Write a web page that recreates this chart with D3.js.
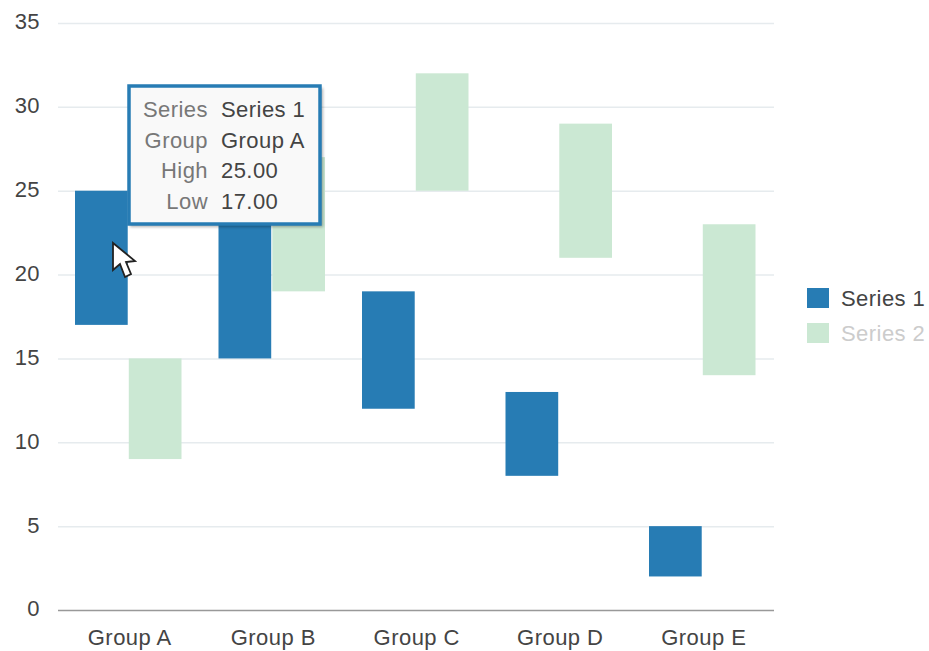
<!DOCTYPE html>
<html>
<head>
<meta charset="utf-8">
<script src="https://cdn.jsdelivr.net/npm/d3@7"></script>
<style>
  html, body { margin: 0; padding: 0; background: #fff; overflow: hidden; }
  svg { display: block; }
  text { font-family: "Liberation Sans", Arial, sans-serif; font-size: 22px; letter-spacing: 0.45px; fill: #444; }
</style>
</head>
<body>
<div id="chart"></div>
<script>
// data
var groups = ["Group A", "Group B", "Group C", "Group D", "Group E"];
var seriesNames = ["Series 1", "Series 2"];
var series1Low = [17, 15, 12, 8, 2];
var series1High = [25, 27, 19, 13, 5];
var series2Low = [9, 19, 25, 21, 14];
var series2High = [15, 27, 32, 29, 23];
var yTicks = [0, 5, 10, 15, 20, 25, 30, 35];
var tooltipKeys = ["Series", "Group", "High", "Low"];
var tooltipValues = ["Series 1", "Group A", "25.00", "17.00"];

var svgWidth = 929;
var svgHeight = 651;
var margin = { top: 23, right: 155, bottom: 41, left: 58 };
var width = svgWidth - margin.left - margin.right;
var height = svgHeight - margin.top - margin.bottom;

var colors = ["#277cb4", "#cbe8d3"];

var svg = d3.select("#chart")
  .append("svg")
  .attr("width", svgWidth)
  .attr("height", svgHeight);

// soft shadow under the tooltip
var defs = svg.append("defs");
defs.append("filter")
  .attr("id", "tipShadow")
  .append("feGaussianBlur")
  .attr("stdDeviation", 1.5);

var chartGroup = svg.append("g")
  .attr("transform", `translate(${margin.left}, ${margin.top})`);

var xScale = d3.scaleBand()
  .domain(groups)
  .range([0, width + 1.5]);

var seriesScale = d3.scaleBand()
  .domain(seriesNames)
  .range([17, xScale.bandwidth() - 20])
  .paddingInner(0.02);

var yScale = d3.scaleLinear()
  .domain([0, 35])
  .range([height, 0]);

// grid lines
chartGroup.selectAll(".grid")
  .data(yTicks.slice(1))
  .enter()
  .append("line")
  .attr("class", "grid")
  .attr("x1", 0)
  .attr("x2", width)
  .attr("y1", d => yScale(d) + 0.5)
  .attr("y2", d => yScale(d) + 0.5)
  .attr("stroke", "#e6ebee")
  .attr("stroke-width", 1.5);

// y axis labels
var leftAxis = d3.axisLeft(yScale).tickValues(yTicks).tickSize(0).tickPadding(18);
var yAxis = chartGroup.append("g").call(leftAxis);
yAxis.select(".domain").remove();
yAxis.attr("font-family", null).attr("font-size", null);
yAxis.selectAll("text").attr("dy", "0.27em");

// x axis
var bottomAxis = d3.axisBottom(xScale).tickSize(0).tickPadding(19);
var xAxis = chartGroup.append("g")
  .attr("transform", `translate(0, ${height})`)
  .call(bottomAxis);
xAxis.attr("font-family", null).attr("font-size", null);
xAxis.select(".domain").remove();
chartGroup.append("line")
  .attr("x1", 0)
  .attr("x2", width)
  .attr("y1", height + 0.5)
  .attr("y2", height + 0.5)
  .attr("stroke", "#999")
  .attr("stroke-width", 1.5);

// bars
function drawBars(cls, name, low, high, color) {
  chartGroup.selectAll("." + cls)
    .data(groups)
    .enter()
    .append("rect")
    .attr("class", cls)
    .attr("x", d => xScale(d) + seriesScale(name))
    .attr("width", seriesScale.bandwidth())
    .attr("y", (d, i) => yScale(high[i]))
    .attr("height", (d, i) => yScale(low[i]) - yScale(high[i]))
    .attr("fill", color);
}
drawBars("bar2", seriesNames[1], series2Low, series2High, colors[1]);
drawBars("bar1", seriesNames[0], series1Low, series1High, colors[0]);

// legend
var legend = svg.append("g").attr("transform", "translate(807, 287)");
var legendItems = legend.selectAll("g")
  .data(seriesNames)
  .enter()
  .append("g")
  .attr("transform", (d, i) => `translate(0, ${i * 35})`);
legendItems.append("rect")
  .attr("width", 22)
  .attr("height", 20)
  .attr("y", 1)
  .attr("fill", (d, i) => colors[i]);
legendItems.append("text")
  .attr("x", 34)
  .attr("y", 19)
  .style("fill", (d, i) => i === 0 ? "#444" : "#ccc")
  .text(d => d);

// tooltip
var tip = svg.append("g").attr("transform", "translate(129, 86)");
tip.append("rect")
  .attr("x", 1)
  .attr("y", 2)
  .attr("width", 193)
  .attr("height", 139)
  .attr("fill", "#000")
  .attr("opacity", 0.3)
  .attr("filter", "url(#tipShadow)");
tip.append("rect")
  .attr("width", 191)
  .attr("height", 138)
  .attr("fill", "#f9f9f9")
  .attr("stroke", "#277cb4")
  .attr("stroke-width", 3.5);
tip.selectAll(".key")
  .data(tooltipKeys)
  .enter()
  .append("text")
  .attr("class", "key")
  .attr("x", 79)
  .attr("y", (d, i) => 31 + i * 30.7)
  .attr("text-anchor", "end")
  .style("fill", "#777")
  .text(d => d);
tip.selectAll(".val")
  .data(tooltipValues)
  .enter()
  .append("text")
  .attr("class", "val")
  .attr("x", 92)
  .attr("y", (d, i) => 31 + i * 30.7)
  .style("fill", "#444")
  .text(d => d);

// mouse pointer from the screenshot
svg.append("path")
  .attr("transform", "translate(113, 243)")
  .attr("d", "M0,0 L0,27 L7,21 L12,34 L18,31 L13,19 L22,18 Z")
  .attr("fill", "#fff")
  .attr("stroke", "#222")
  .attr("stroke-width", 1.8);
</script>
</body>
</html>
